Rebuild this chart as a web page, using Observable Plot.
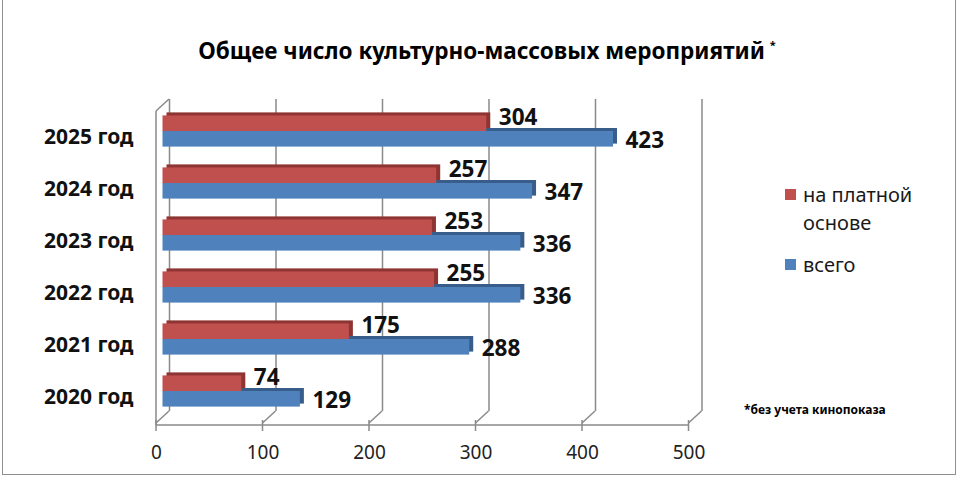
<!DOCTYPE html>
<html><head><meta charset="utf-8">
<script src="https://cdn.jsdelivr.net/npm/d3@7"></script>
<script src="https://cdn.jsdelivr.net/npm/@observablehq/plot@0.6"></script>
<style>
body{margin:0;background:#fff;font-family:"Noto Sans",sans-serif;}
#wrap{position:relative;width:960px;height:480px;overflow:hidden;}
#border{position:absolute;left:2px;top:-2px;width:954px;height:477px;border:1.5px solid #8f8f8f;box-sizing:border-box;}
#title{position:absolute;left:0;width:974px;top:35px;text-align:center;font-weight:bold;font-size:22.5px;color:#000;white-space:nowrap;}
#title sup{font-size:11px;vertical-align:10px;margin-left:5px;}
.leg{position:absolute;font-size:20px;color:#1a1a1a;line-height:28px;}
.sw{position:absolute;width:11px;height:11px;}
#note{position:absolute;left:744px;top:401px;font-size:12px;font-weight:bold;color:#000;white-space:nowrap;}
#chart{position:absolute;left:0;top:0;}
</style></head>
<body><div id="wrap">
<div id="chart"></div>
<div id="border"></div>
<div id="title">Общее число культурно-массовых мероприятий<sup>*</sup></div>
<div id="legend"></div>
<div id="note">*без учета кинопоказа</div>
</div>
<script>
const years = ["2020 год","2021 год","2022 год","2023 год","2024 год","2025 год"];
const paid  = [74, 175, 255, 253, 257, 304];
const total = [129, 288, 336, 336, 347, 423];
const seriesNames = ["на платной основе", "всего"];
const seriesColors = ["#C0504D", "#4F81BD"];
const seriesDark = ["#8E3432", "#385D8A"];
const xTicks = [0, 100, 200, 300, 400, 500];

const idx = years.map((_, i) => i);
const barH = 0.3;
const redRows = idx.map(i => ({i, v: paid[i]}));
const blueRows = idx.map(i => ({i, v: total[i]}));

const DX = 6.5, DY = 6, GRID = "#8a8a8a";
const EX = 4, EY = -3;

function frame3d(index, scales) {
  const g = d3.create("svg:g").attr("stroke", GRID).attr("stroke-width", 1.5).attr("fill", "none");
  const yb = scales.y(-0.5), yt = scales.y(5.5);
  const axisY = yb + 8;
  for (const t of xTicks) {
    const x = scales.x(t);
    g.append("line").attr("x1", x + DX).attr("y1", yb - DY).attr("x2", x - DX).attr("y2", yb + DY);
    g.append("line").attr("x1", x - DX).attr("y1", axisY - 5).attr("x2", x - DX).attr("y2", axisY + 6);
  }
  const x0 = scales.x(xTicks[0]), x1 = scales.x(xTicks[xTicks.length - 1]);
  g.append("line").attr("x1", x0 - DX).attr("y1", axisY).attr("x2", x1 - DX).attr("y2", axisY);
  g.append("line").attr("x1", x0 - DX).attr("y1", yt + DY).attr("x2", x0 - DX).attr("y2", axisY);
  g.append("line").attr("x1", x0 - DX).attr("y1", yt + DY).attr("x2", x0 + DX).attr("y2", yt - DY);
  return g.node();
}

const chart = Plot.plot({
  width: 960, height: 480,
  marginLeft: 162.5, marginRight: 265, marginTop: 105, marginBottom: 63,
  style: {fontFamily: "Noto Sans", background: "transparent"},
  x: {domain: [0, 500]},
  y: {domain: [-0.5, 5.5]},
  marks: [
    Plot.ruleX(xTicks, {x: d => d, y1: -0.5, y2: 5.5, dx: DX, dy: -DY, stroke: GRID, strokeWidth: 1.5}),
    frame3d,
    // extrusions (top/right faces)
    Plot.rectX(blueRows, {x1: 0, x2: "v", y1: d => d.i - barH, y2: d => d.i, fill: seriesDark[1], dx: EX, dy: EY}),
    Plot.rectX(redRows, {x1: 0, x2: "v", y1: d => d.i, y2: d => d.i + barH, fill: seriesDark[0], dx: EX, dy: EY}),
    // front faces
    Plot.rectX(blueRows, {x1: 0, x2: "v", y1: d => d.i - barH, y2: d => d.i, fill: seriesColors[1]}),
    Plot.rectX(redRows, {x1: 0, x2: "v", y1: d => d.i, y2: d => d.i + barH, fill: seriesColors[0]}),
    Plot.text(redRows, {x: "v", y: d => d.i + barH / 2, text: d => String(d.v), dx: 12, dy: -6, textAnchor: "start", fontWeight: "bold", fontSize: 22.5, fill: "#111"}),
    Plot.text(blueRows, {x: "v", y: d => d.i - barH / 2, text: d => String(d.v), dx: 12, dy: 1, textAnchor: "start", fontWeight: "bold", fontSize: 22.5, fill: "#111"}),
    Plot.axisY({ticks: idx, tickFormat: i => years[i], tickSize: 0, tickPadding: 29.5, dy: 6, fontSize: 21, fontWeight: "bold", fill: "#111", label: null}),
    Plot.axisX({ticks: xTicks, tickFormat: d => String(d), tickSize: 0, tickPadding: 28, dx: -DX, fontSize: 19, fill: "#222", label: null})
  ]
});
document.getElementById("chart").appendChild(chart);

// legend (HTML)
const legend = document.getElementById("legend");
const legTops = [181, 251];
const legLabels = [["на платной", "основе"], ["всего"]];
seriesNames.forEach((name, k) => {
  const sw = document.createElement("div");
  sw.className = "sw"; sw.style.background = seriesColors[k];
  sw.style.left = "785px"; sw.style.top = (legTops[k] + 8) + "px";
  legend.appendChild(sw);
  const t = document.createElement("div");
  t.className = "leg"; t.style.left = "803px"; t.style.top = legTops[k] + "px";
  t.innerHTML = legLabels[k].join("<br>");
  legend.appendChild(t);
});
</script>
</body></html>
